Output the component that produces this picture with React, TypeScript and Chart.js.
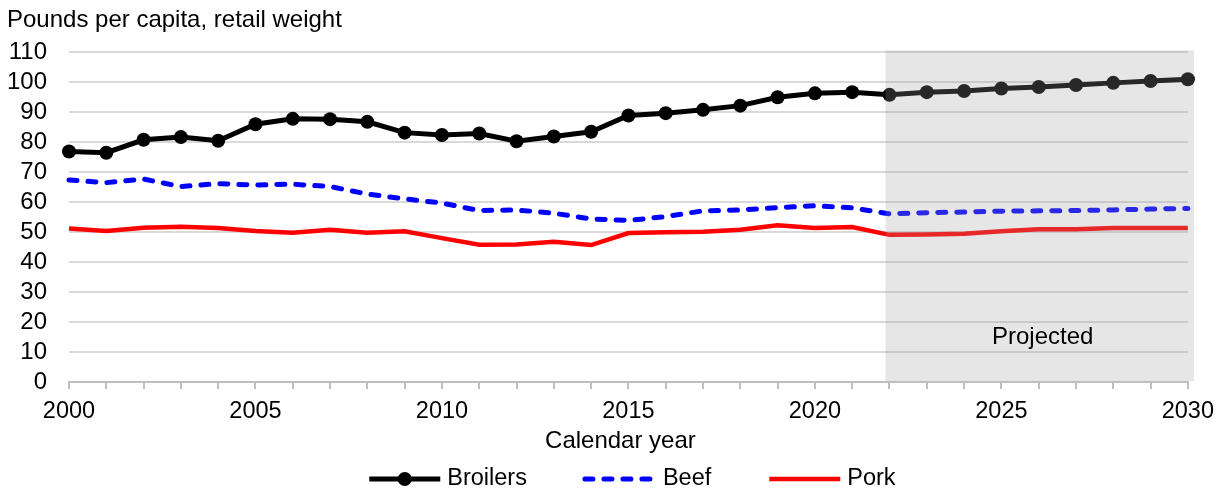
import React, { useEffect, useRef } from "react";
import { Chart, registerables } from "chart.js";

Chart.register(...registerables);

const FONT = '"Liberation Sans", Arial, Helvetica, sans-serif';

const years = [
  2000, 2001, 2002, 2003, 2004, 2005, 2006, 2007, 2008, 2009,
  2010, 2011, 2012, 2013, 2014, 2015, 2016, 2017, 2018, 2019,
  2020, 2021, 2022, 2023, 2024, 2025, 2026, 2027, 2028, 2029, 2030,
];

const broilers = [
  76.9, 76.5, 80.8, 81.7, 80.5, 86.0, 87.8, 87.7, 86.8, 83.2,
  82.4, 82.9, 80.3, 81.9, 83.5, 88.9, 89.7, 90.8, 92.2, 95.0,
  96.3, 96.7, 95.8, 96.7, 97.1, 97.9, 98.4, 99.1, 99.8, 100.4, 101.0,
];

const beef = [
  67.4, 66.5, 67.7, 65.2, 66.2, 65.7, 66.0, 65.2, 62.7, 61.1,
  59.7, 57.2, 57.4, 56.3, 54.4, 53.9, 55.2, 57.1, 57.4, 58.2,
  58.8, 58.1, 56.1, 56.5, 56.7, 57.0, 57.1, 57.2, 57.4, 57.7, 57.9,
];

const pork = [
  51.2, 50.4, 51.5, 51.8, 51.4, 50.4, 49.8, 50.8, 49.8, 50.3,
  48.0, 45.8, 45.9, 46.8, 45.7, 49.7, 50.0, 50.1, 50.8, 52.3,
  51.4, 51.7, 49.1, 49.2, 49.5, 50.3, 51.0, 51.0, 51.4, 51.4, 51.4,
];

const seriesNames = ["Broilers", "Beef", "Pork"];
const yTitle = "Pounds per capita, retail weight";
const xTitle = "Calendar year";
const projectedLabel = "Projected";
const projectionStart = 2022;
const projectedLabelValue = 15;
const yMin = 0;
const yMax = 110;
const yStep = 10;
const xMin = 2000;
const xMax = 2030;
const xLabelEvery = 5;

const toPoints = (vals: number[]) => years.map((yr, i) => ({ x: yr, y: vals[i] }));

const overlayPlugin = {
  id: "overlayAndLegend",
  afterDatasetsDraw(chart: any) {
    const { ctx, chartArea, scales } = chart;
    const xs = scales.x;
    const ys = scales.y;
    const left = xs.getPixelForValue(projectionStart) - 4;
    const right = chartArea.right + 6;
    const top = ys.getPixelForValue(yMax) - 2;
    const bottom = chartArea.bottom - 1;
    ctx.save();
    ctx.fillStyle = "rgba(157,157,157,0.255)";
    ctx.fillRect(left, top, right - left, bottom - top);
    ctx.fillStyle = "#000";
    ctx.font = `24px ${FONT}`;
    ctx.textAlign = "center";
    ctx.textBaseline = "middle";
    ctx.fillText(projectedLabel, (left + right) / 2 + 3, ys.getPixelForValue(projectedLabelValue));
    ctx.restore();
  },
  afterDraw(chart: any) {
    const { ctx, chartArea } = chart;
    ctx.save();
    ctx.fillStyle = "#000";
    // Unit title (top-left)
    ctx.font = `24px ${FONT}`;
    ctx.textAlign = "left";
    ctx.textBaseline = "alphabetic";
    ctx.fillText(yTitle, 7, 27);

    // x-axis title
    ctx.font = `24px ${FONT}`;
    ctx.textAlign = "center";
    ctx.textBaseline = "middle";
    ctx.fillText(xTitle, (chartArea.left + chartArea.right) / 2 - 8, chartArea.bottom + 59);

    // Legend
    ctx.font = `23.5px ${FONT}`;
    const SAMPLE = 71;
    const GAP1 = 7;
    const GAP2 = 58;
    const ds = chart.data.datasets;
    const widths = ds.map((d: any) => ctx.measureText(d.label).width);
    let total = 0;
    widths.forEach((w: number) => (total += SAMPLE + GAP1 + w));
    total += GAP2 * (ds.length - 1);
    let xx = (chartArea.left + chartArea.right) / 2 + 4 - total / 2;
    const ly = chart.height - 12;
    ds.forEach((d: any, i: number) => {
      ctx.save();
      ctx.strokeStyle = d.borderColor;
      ctx.lineWidth = d.borderWidth;
      ctx.lineCap = d.borderDash && d.borderDash.length ? "round" : "butt";
      ctx.setLineDash(d.borderDash || []);
      ctx.beginPath();
      ctx.moveTo(xx, ly);
      ctx.lineTo(xx + SAMPLE, ly);
      ctx.stroke();
      if (d.pointRadius > 0) {
        ctx.setLineDash([]);
        ctx.fillStyle = d.pointBackgroundColor;
        ctx.beginPath();
        ctx.arc(xx + SAMPLE / 2, ly, d.pointRadius, 0, Math.PI * 2);
        ctx.fill();
      }
      ctx.restore();
      ctx.fillStyle = "#000";
      ctx.textAlign = "left";
      ctx.textBaseline = "middle";
      ctx.fillText(d.label, xx + SAMPLE + GAP1, ly);
      xx += SAMPLE + GAP1 + widths[i] + GAP2;
    });
    ctx.restore();
  },
};

export default function App() {
  const canvasRef = useRef<HTMLCanvasElement | null>(null);

  useEffect(() => {
    const canvas = canvasRef.current;
    if (!canvas) return;
    const chart = new Chart(canvas, {
      type: "line",
      data: {
        datasets: [
          {
            label: seriesNames[0],
            data: toPoints(broilers),
            borderColor: "#000000",
            backgroundColor: "#000000",
            borderWidth: 5,
            pointRadius: 7,
            pointBackgroundColor: "#000000",
            pointBorderWidth: 0,
            tension: 0,
            clip: false,
          },
          {
            label: seriesNames[1],
            data: toPoints(beef),
            borderColor: "#0000ff",
            backgroundColor: "#0000ff",
            borderWidth: 5,
            borderDash: [8, 11],
            borderCapStyle: "round",
            pointRadius: 0,
            tension: 0,
            clip: false,
          },
          {
            label: seriesNames[2],
            data: toPoints(pork),
            borderColor: "#ff0000",
            backgroundColor: "#ff0000",
            borderWidth: 4.5,
            pointRadius: 0,
            tension: 0,
            clip: false,
          },
        ] as any,
      },
      options: {
        animation: false,
        responsive: false,
        devicePixelRatio: 1,
        layout: { padding: { top: 52.3, left: 0, right: 32, bottom: 36.2 } },
        plugins: {
          legend: { display: false },
          title: { display: false },
          tooltip: { enabled: false },
        },
        scales: {
          x: {
            type: "linear",
            min: xMin,
            max: xMax,
            afterFit: (s: any) => {
              s.height = 72.8;
            },
            ticks: {
              stepSize: 1,
              autoSkip: false,
              maxRotation: 0,
              minRotation: 0,
              padding: 8,
              color: "#000",
              font: { family: FONT, size: 23.5 },
              callback: (v: any) => (Number(v) % xLabelEvery === 0 ? String(v) : ""),
            },
            grid: {
              display: true,
              drawOnChartArea: false,
              drawTicks: true,
              tickLength: 7,
              color: "#bfbfbf",
              lineWidth: 2,
            },
            border: { display: true, color: "#bfbfbf", width: 2 },
            title: { display: false },
          },
          y: {
            type: "linear",
            min: yMin,
            max: yMax,
            afterFit: (s: any) => {
              s.width = 69;
            },
            ticks: {
              stepSize: yStep,
              autoSkip: false,
              padding: 22,
              color: "#000",
              font: { family: FONT, size: 24 },
            },
            grid: {
              color: "#d9d9d9",
              lineWidth: 2,
              drawTicks: false,
            },
            border: { display: false },
          },
        },
      } as any,
      plugins: [overlayPlugin],
    });
    return () => chart.destroy();
  }, []);

  return (
    <div style={{ position: "absolute", left: 0, top: 0, width: 1222, height: 491, background: "#fff" }}>
      <canvas ref={canvasRef} width={1222} height={491} style={{ width: 1222, height: 491 }} />
    </div>
  );
}
